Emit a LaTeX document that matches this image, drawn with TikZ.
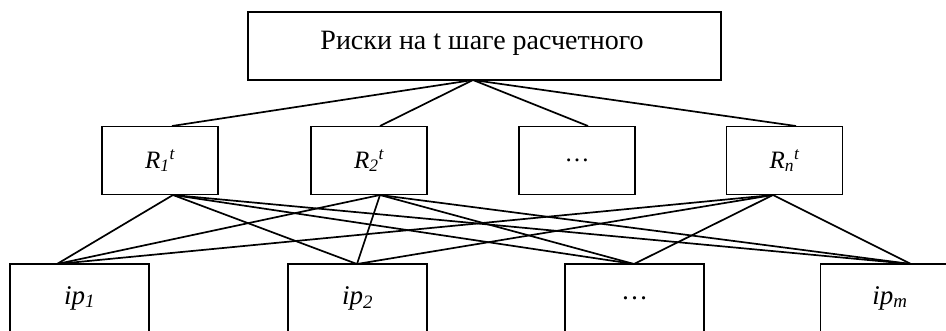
\documentclass[tikz,border=0pt]{standalone}
\usepackage{fontspec}
\setmainfont{Liberation Serif}
\begin{document}
\begin{tikzpicture}[x=1pt,y=-1pt,
  box/.style={draw,line width=1.8pt,minimum height=68pt,inner sep=0pt},
  conn/.style={line width=1.7pt},
  ttl/.style={font=\fontsize{28}{32}\selectfont},
  rl/.style={font=\fontsize{25}{30}\selectfont},
  pl/.style={font=\fontsize{27}{32}\selectfont}]
\useasboundingbox (0,0) rectangle (946,330);
\clip (0,0) rectangle (946,330);
% top
\node[box,minimum width=473pt] (top) at (484.5,46) {};
\node[ttl,anchor=base] (toptxt) at (482,49) {Риски на t шаге расчетного};
% middle
\node[box,minimum width=116pt,rl] (r1) at (160,160.5) {\itshape R\textsubscript{1}\textsuperscript{t}};
\node[box,minimum width=116pt,rl] (r2) at (369,160.5) {\itshape R\textsubscript{2}\textsuperscript{t}};
\node[box,minimum width=116pt,rl] (rd) at (577,160.5) {\dots};
\node[box,minimum width=116pt,rl] (rn) at (784.5,160.5) {\itshape R\textsubscript{n}\textsuperscript{t}};
% bottom
\node[box,minimum width=139pt,pl] (p1) at (79.5,298) {\itshape ip\textsubscript{1}};
\node[box,minimum width=139pt,pl] (p2) at (357.5,298) {\itshape ip\textsubscript{2}};
\node[box,minimum width=139pt,pl] (pd) at (634.5,298) {\dots};
\node[box,minimum width=139pt,pl] (pm) at (890,298) {\itshape ip\textsubscript{m}};
% attach points
\coordinate (ts) at (473,80);
\coordinate (r1n) at (172,126);
\coordinate (r2n) at (380,126);
\coordinate (rdn) at (588,126);
\coordinate (rnn) at (796,126);
\coordinate (r1s) at (173,195);
\coordinate (r2s) at (380,195);
\coordinate (rns) at (773,195);
\coordinate (p1n) at (57,264);
\coordinate (p2n) at (357,264);
\coordinate (pdn) at (634,264);
\coordinate (pmn) at (911,264);
\foreach \a in {r1n,r2n,rdn,rnn} \draw[conn] (ts) -- (\a);
\foreach \s in {r1s,r2s,rns}
  \foreach \b in {p1n,p2n,pdn,pmn}
    \draw[conn] (\s) -- (\b);
\end{tikzpicture}
\end{document}
